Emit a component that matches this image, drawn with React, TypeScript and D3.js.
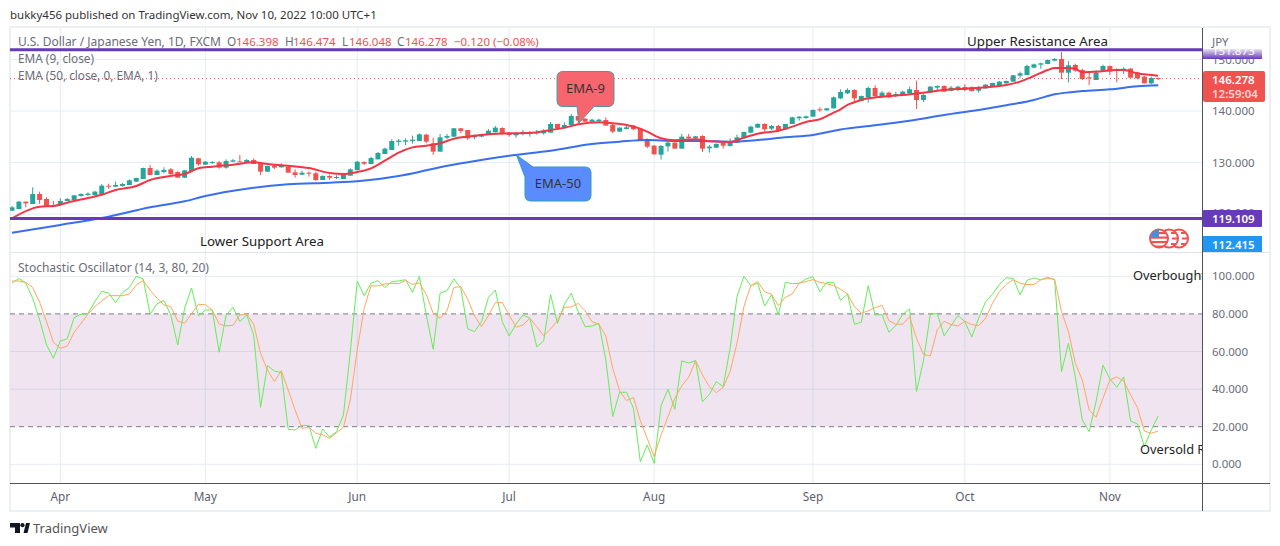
import React from 'react';
import * as d3 from 'd3';

const WIDTH = 1280;
const HEIGHT = 546;

// daily candles, left to right
const opens = [120.65,120.97,122.40,121.94,123.88,122.91,121.75,121.75,122.53,122.72,123.49,123.69,123.69,123.88,125.50,125.31,125.44,125.63,126.28,126.80,128.93,127.57,128.15,128.67,128.15,127.05,128.35,130.81,129.58,129.90,130.03,129.00,130.16,130.23,130.10,130.48,129.84,128.22,129.38,129.06,129.19,128.09,127.64,128.02,127.90,126.60,127.38,126.99,126.80,127.44,128.54,130.10,129.71,130.61,131.65,132.43,133.98,134.05,134.18,134.18,
  135.41,133.73,132.11,134.82,135.02,136.64,136.31,134.89,135.02,135.34,135.86,136.70,135.67,135.28,135.54,135.60,135.67,135.67,135.80,137.48,136.64,137.29,139.03,138.52,137.93,138.06,138.26,137.29,135.99,136.51,137.16,136.51,134.37,133.27,131.52,133.14,133.86,132.69,135.02,134.70,135.15,132.76,132.88,133.86,133.21,133.86,134.70,135.80,136.77,137.48,136.57,137.09,136.44,137.48,138.58,138.64,138.90,140.33,140.13,140.52,142.46,
  143.43,144.08,141.99,142.65,144.47,142.91,143.56,143.04,143.04,143.43,144.08,142.14,143.56,144.53,144.86,143.95,144.08,144.66,144.60,143.95,144.40,144.79,144.92,145.37,145.70,146.86,146.99,148.42,149.00,149.13,149.77,150.10,147.44,148.93,147.96,146.54,146.02,147.83,148.74,148.16,147.96,148.22,147.44,146.67,145.37,146.398];
const highs = [121.55,122.53,122.40,125.18,124.34,123.24,122.53,123.04,123.10,123.70,124.01,124.20,124.50,125.82,125.89,126.28,126.02,126.73,127.05,129.00,129.51,128.67,129.06,128.93,128.28,128.55,131.26,130.94,130.29,130.29,130.29,130.61,130.68,131.46,130.68,130.81,129.97,129.38,129.71,129.84,129.32,128.67,128.41,128.22,128.22,127.51,127.64,127.51,127.90,128.87,130.29,130.23,131.13,132.04,132.88,134.50,134.56,134.69,135.21,135.66,
  135.54,134.82,135.54,135.54,136.70,136.64,136.31,135.41,135.60,136.51,137.09,136.83,135.93,135.80,136.31,136.12,136.31,136.44,137.87,137.48,137.80,139.42,139.03,138.60,138.45,138.52,138.77,137.54,136.83,137.22,137.29,136.64,134.70,133.40,133.40,134.05,134.24,135.54,135.54,135.15,135.28,133.40,133.73,134.12,134.70,135.41,135.99,137.16,137.61,137.61,137.29,137.29,137.48,138.90,139.03,139.10,140.30,140.72,140.60,142.80,144.20,
  144.40,144.20,143.00,144.73,144.98,143.88,143.75,143.75,143.95,144.73,145.89,143.30,144.86,144.98,144.98,144.86,144.86,145.18,144.80,144.86,145.24,145.50,145.83,145.90,147.00,147.64,149.00,149.20,149.39,150.00,150.29,151.46,149.70,149.19,148.22,147.44,147.96,149.00,148.80,148.29,148.48,148.35,147.64,146.80,146.67,146.474];
const lows = [120.65,120.91,121.29,121.94,121.94,121.42,121.42,121.55,122.50,122.70,123.37,123.50,123.60,123.88,124.85,125.20,125.31,125.63,126.20,126.80,127.57,127.57,127.90,127.57,127.05,127.00,128.35,129.38,129.58,129.71,128.80,128.80,130.10,130.10,130.03,129.71,127.57,128.15,128.74,129.00,128.02,127.05,127.57,127.25,126.41,126.60,126.60,126.80,126.80,127.44,128.41,129.51,129.64,130.61,131.65,132.43,133.27,133.40,133.66,134.18,
  133.73,131.46,132.11,134.50,135.00,135.67,134.37,134.50,134.90,135.34,135.86,135.41,135.02,134.82,135.28,135.02,135.41,135.41,135.80,136.44,136.64,137.16,137.61,137.90,137.74,137.87,137.16,135.67,135.99,136.44,136.31,134.24,132.76,131.52,130.55,132.11,132.69,132.69,134.37,134.50,132.04,131.91,132.82,132.69,133.08,133.86,134.63,135.67,136.70,135.93,136.31,135.99,136.44,137.48,138.13,138.50,138.90,139.87,140.10,140.50,142.30,
  143.30,141.70,141.99,141.62,142.65,142.78,142.52,142.65,142.91,143.43,140.39,141.75,143.56,143.95,143.75,143.82,143.82,143.82,143.75,143.56,144.30,144.70,144.86,145.30,145.70,146.34,146.99,148.30,148.22,149.10,149.64,146.21,145.57,147.64,146.02,145.05,146.02,147.70,147.00,145.57,147.18,146.47,146.15,145.37,145.18,146.048];
const closes = [121.29,122.40,122.07,123.88,122.72,121.55,121.55,122.53,122.91,123.62,123.88,123.95,124.34,125.50,125.31,125.63,125.82,126.54,126.99,128.93,127.57,128.41,128.54,127.77,127.05,128.48,130.94,129.64,130.16,130.10,129.00,130.29,130.42,130.10,130.48,129.71,128.22,129.32,129.00,129.32,128.02,127.57,128.02,127.83,126.60,127.38,127.05,127.18,127.57,128.67,130.16,129.77,130.87,131.85,132.69,134.17,134.24,134.30,134.43,135.47,
  134.05,132.11,134.89,135.15,136.64,136.12,134.70,135.15,135.47,136.18,136.77,135.54,135.34,135.54,135.93,135.80,135.93,136.12,137.48,136.64,137.29,139.03,138.13,137.93,138.32,138.32,137.16,135.99,136.77,136.83,136.44,134.24,133.08,131.59,133.21,133.86,132.69,135.02,134.70,135.08,132.69,133.08,133.60,133.27,133.86,134.89,135.93,136.96,137.48,136.44,137.09,136.31,137.48,138.77,138.90,138.97,140.20,140.20,140.52,142.66,143.69,
  144.08,142.46,142.91,144.47,142.91,143.56,142.65,143.30,143.75,144.21,142.14,143.11,144.73,144.86,143.75,144.53,144.73,144.08,143.88,144.66,145.11,145.44,145.70,145.83,146.93,147.31,148.74,149.06,149.26,149.90,150.10,147.44,148.87,147.83,146.21,146.34,147.44,148.74,147.64,147.77,148.22,146.47,146.34,145.37,146.41,146.278];

// moving averages, read every few bars
const ema9Bars = [0,3,4,6,8,11,13,15,18,20,23,25,27,29,32,35,37,40,43,46,48,50,52,54,56,58,60,62,64,66,69,72,75,78,80,82,85,87,89,91,92,94,96,99,101,104,106,108,111,113,115,117,119,120,121,123,126,129,132,135,138,141,144,146,148,150,151,153,154,155,157,160,161,163,166];
const ema9Values = [119.16,121.10,121.42,121.55,122.20,123.10,123.75,124.66,125.44,126.60,127.38,127.77,128.87,129.19,129.58,130.03,129.71,129.38,128.93,127.96,127.77,128.15,128.87,130.35,131.91,132.94,133.27,133.73,134.63,135.02,135.47,135.67,135.73,136.31,136.77,137.41,137.80,137.61,137.29,136.57,135.99,134.70,134.31,134.50,134.11,133.98,134.83,135.60,136.18,136.96,137.87,138.39,139.68,140.33,141.17,142.14,142.78,143.11,143.56,144.08,144.34,144.60,145.05,145.70,146.80,147.96,148.35,148.35,148.22,147.51,147.64,147.96,147.96,147.31,146.86];
const ema50Bars = [0,7,14,20,25,28,34,40,46,50,56,60,62,66,72,78,84,88,92,96,100,104,108,112,116,120,125,130,135,140,144,148,151,155,159,163,166];
const ema50Values = [116.38,117.87,119.48,121.29,122.46,123.50,124.92,125.76,126.08,126.34,127.38,128.48,129.06,130.04,131.33,132.30,133.60,134.05,134.37,134.18,134.18,134.05,134.37,134.89,135.34,136.40,137.22,138.12,139.23,140.20,141.10,142.14,143.24,143.88,144.20,144.79,144.98];

// stochastic %K and %D
const stochK = [96.3,98.9,96.3,88.3,76.8,63.5,56.4,65.6,66.7,78,79.8,80.3,86.5,92,91.1,86,91.3,94.1,100,98.6,79.8,85.3,87.2,79.4,63.5,83,93.8,78.9,82.1,82.1,59.6,79.1,83.5,75.9,79.4,68.8,30.3,52.5,49.6,48.8,18.6,18.3,20.7,20.6,8.5,18.8,14.4,17.4,26.2,59.9,97.5,89.7,96.3,97.7,94,97.2,97.5,98.2,91.5,100,79.4,61.2,
  91,92.4,98.6,93.6,72,70.6,75.9,88.8,92.7,75.9,68.3,74.6,79.4,77.7,62.4,65.6,90.4,75,85.1,91,81.2,73.2,73.6,75,55.5,25.4,38.3,38.3,29.8,1.4,10.3,0.5,31.2,39.9,29.3,55,53.9,55.1,33.3,37.2,44,41.3,61.7,89.2,100,95,96.3,84.2,90.1,79.4,96.8,96.1,96.3,98.6,99.8,91.8,96.8,96.8,87.1,90.6,
  74.5,75.5,95,79.4,79.6,70.2,73.8,79.8,82.6,38.7,55,79.8,80.3,68.3,73.8,79.1,75.9,67.7,77.7,86.5,90.4,95.7,99.3,98.8,90.1,97.9,99.1,98.1,99.5,98.1,49.3,64.4,46.6,23.6,17.4,33.3,52.7,45.4,41,46.5,23,21.5,9.4,18.3,25.7];
const stochD = [97.5,97.5,96.8,94,86.2,75.9,64.9,61.7,62.9,70.2,75,79.8,83.9,86.9,89.7,89.7,89.7,90.6,95.4,97.7,92.7,88.3,84.8,83.9,76.2,75,80,85.1,84.9,82.1,74.6,73.6,73.9,79.4,79.8,74.6,59,50.2,44,49.8,39.5,28.9,19.1,19.7,16.5,15.6,13.8,16.8,19.7,34.2,60.8,83,94.9,94.9,95.9,96.3,96.1,97.7,95.7,96.5,90.4,
  80.3,77.7,81.7,94.1,94.5,87.8,78.9,73.2,79.1,86,86,79.4,73,74.1,77.7,73.2,68.4,72,76.4,83.5,83.7,85.6,81.6,75.9,74.5,68.3,51.1,39,33.9,35.5,23.2,13.8,4.1,15.6,25.4,35.1,41.7,46.3,55.1,47.5,41.3,38.1,41,49.3,64.4,83.9,95,97.2,91.8,90.4,84.4,88.8,90.6,96.3,97.2,98.2,96.8,96.1,95,93.1,90.6,
  83.9,80.3,81.7,83.3,84.6,76.4,74.5,74.5,78.5,67,58.5,57.6,71.5,76.1,74.3,73.6,76.1,74.3,73.8,77.7,85.6,91.8,95.7,98.2,96.3,95.6,95.6,98.1,98.9,98.4,81.2,70.6,53.7,44.9,28.9,25,35.1,44.9,46.5,44.3,36.9,30.1,17.7,16.5,17.7];

const monthLabels = ['Apr','May','Jun','Jul','Aug','Sep','Oct','Nov'];
const monthBars = [7,28,50,72,93,116,138,159];
const priceTicks = [140,130];
const stochTicks = [100,80,60,40,20,0];
const stochGrid = [100,60,40,0];

const LAST_PRICE = 146.278;
const UPPER_LEVEL = 151.873;
const LOWER_LEVEL = 119.109;

const UI_FONT = "'Noto Sans', sans-serif";
const GREY = '#6a6d78';
const GRID = '#e6ecf3';
const PURPLE = '#673ab7';
const UP = '#26a69a';
const DOWN = '#ef5350';

const AXIS_X = 1202;
const RIGHT = 1270;

const x = d3.scaleLinear().domain([0, 166]).range([12, 1158.2]);
const yPrice = d3.scaleLinear().domain([120, 150]).range([214, 59.5]);
const yStoch = d3.scaleLinear().domain([0, 100]).range([464.3, 276.3]);

const App: React.FC = () => {
  const emaLine = d3.line<[number, number]>()
    .x(d => x(d[0]))
    .y(d => yPrice(d[1]))
    .curve(d3.curveMonotoneX);
  const stochLine = d3.line<number>()
    .x((_, i) => x(i))
    .y(d => yStoch(d));

  const ema9 = emaLine(ema9Bars.map((b, i) => [b, ema9Values[i]] as [number, number])) || '';
  const ema50 = emaLine(ema50Bars.map((b, i) => [b, ema50Values[i]] as [number, number])) || '';

  return (
    <svg
      width={WIDTH}
      height={HEIGHT}
      viewBox={`0 0 ${WIDTH} ${HEIGHT}`}
      style={{ position: 'absolute', left: 0, top: 0, background: '#fff' }}
    >
      <defs>
        <clipPath id="plot"><rect x={10} y={28} width={AXIS_X - 10} height={455} /></clipPath>
        <linearGradient id="fadeTag" x1="0" y1="0" x2="0" y2="1">
          <stop offset="0" stopColor="#fff" stopOpacity={0.85} />
          <stop offset="1" stopColor="#fff" stopOpacity={0} />
        </linearGradient>
        <clipPath id="flagA"><circle cx={1159} cy={238.5} r={9} /></clipPath>
      </defs>

      <text x={10} y={19} fontFamily={UI_FONT} fontSize={11.5} fill="#333">
        bukky456 published on TradingView.com, Nov 10, 2022 10:00 UTC+1
      </text>

      {/* frame */}
      <rect x={10} y={27} width={RIGHT - 10} height={484} fill="none" stroke="#eceff4" strokeWidth={2} />

      {/* grid */}
      <g stroke={GRID} strokeWidth={1}>
        {monthBars.map(b => <line key={b} x1={x(b)} x2={x(b)} y1={28} y2={483} />)}
        {[150, ...priceTicks, 120].map(t => <line key={t} x1={10} x2={AXIS_X} y1={yPrice(t)} y2={yPrice(t)} />)}
        {stochGrid.map(t => <line key={t} x1={10} x2={AXIS_X} y1={yStoch(t)} y2={yStoch(t)} />)}
      </g>
      <line x1={10} x2={RIGHT} y1={252.5} y2={252.5} stroke="#dfe3ea" />

      {/* stochastic */}
      <rect x={10} y={yStoch(80)} width={AXIS_X - 10} height={yStoch(20) - yStoch(80)} fill="#f0e4f0" />
      <g stroke="#d6d6e6" strokeWidth={1}>
        {[60, 40].map(t => <line key={t} x1={10} x2={AXIS_X} y1={yStoch(t)} y2={yStoch(t)} />)}
        {monthBars.map(b => <line key={b} x1={x(b)} x2={x(b)} y1={yStoch(80)} y2={yStoch(20)} />)}
      </g>
      {[80, 20].map(t => (
        <line key={t} x1={10} x2={AXIS_X} y1={yStoch(t)} y2={yStoch(t)} stroke="#787b86" strokeDasharray="5 4" />
      ))}
      <g clipPath="url(#plot)">
        <path d={stochLine(stochK) || ''} fill="none" stroke="#63ee55" strokeWidth={1} />
        <path d={stochLine(stochD) || ''} fill="none" stroke="#ffa75e" strokeWidth={1} />
      </g>

      {/* candles */}
      <g clipPath="url(#plot)">
        {opens.map((o, i) => {
          const c = closes[i];
          const col = c >= o ? UP : DOWN;
          const top = yPrice(Math.max(o, c));
          const bottom = yPrice(Math.min(o, c));
          return (
            <g key={i}>
              <line x1={x(i)} x2={x(i)} y1={yPrice(highs[i])} y2={yPrice(lows[i])} stroke={col} />
              <rect x={x(i) - 2.5} y={top} width={5} height={Math.max(bottom - top, 1)} fill={col} />
            </g>
          );
        })}
        <line x1={10} x2={AXIS_X} y1={yPrice(LAST_PRICE)} y2={yPrice(LAST_PRICE)} stroke={DOWN} strokeDasharray="1 3" />
        <path d={ema50} fill="none" stroke="#2f66f0" strokeWidth={2} strokeOpacity={0.95} />
        <path d={ema9} fill="none" stroke="#f23645" strokeWidth={2} />
        <line x1={10} x2={AXIS_X} y1={yPrice(UPPER_LEVEL)} y2={yPrice(UPPER_LEVEL)} stroke={PURPLE} strokeWidth={3} />
        <line x1={10} x2={AXIS_X} y1={yPrice(LOWER_LEVEL)} y2={yPrice(LOWER_LEVEL)} stroke={PURPLE} strokeWidth={3} />
      </g>

      {/* callouts */}
      <path
        d="M563 71.5 H608 Q614 71.5 614 77.5 V100.5 Q614 106.5 608 106.5 H594 L579 123 L577 106.5 H563 Q557 106.5 557 100.5 V77.5 Q557 71.5 563 71.5 Z"
        fill="#f7666f" stroke="#4f9aa0"
      />
      <text x={585.5} y={93} textAnchor="middle" fontFamily={UI_FONT} fontSize={13} fill="#333">EMA-9</text>
      <path
        d="M533 167 H585 Q591 167 591 173 V195 Q591 201 585 201 H531 Q525 201 525 195 V177 L516.5 155 Z"
        fill="#5b8cff" stroke="#2d9fb3"
      />
      <text x={558} y={188} textAnchor="middle" fontFamily={UI_FONT} fontSize={13} fill="#333">EMA-50</text>

      {/* drawings' notes */}
      <g clipPath="url(#plot)" fontFamily={UI_FONT} fontSize={13.3} fill="#222">
        <text x={967} y={46}>Upper Resistance Area</text>
        <text x={200} y={246}>Lower Support Area</text>
        <text x={1133} y={280} fontSize={12.8}>Overbought</text>
        <text x={1140} y={454} fontSize={12.8}>Oversold Region</text>
      </g>

      {/* legend */}
      <g fontFamily={UI_FONT} fontSize={11.8} fill={GREY}>
        <text x={18} y={46} fontSize={12}>U.S. Dollar / Japanese Yen, 1D, FXCM</text>
        <text x={227} y={46}>O</text>
        <text x={236} y={46} fontSize={11.5} fill={DOWN}>146.398</text>
        <text x={285} y={46}>H</text>
        <text x={293} y={46} fontSize={11.5} fill={DOWN}>146.474</text>
        <text x={342} y={46}>L</text>
        <text x={349} y={46} fontSize={11.5} fill={DOWN}>146.048</text>
        <text x={397} y={46}>C</text>
        <text x={405} y={46} fontSize={11.5} fill={DOWN}>146.278</text>
        <text x={454} y={46} fontSize={11.5} fill={DOWN}>−0.120 (−0.08%)</text>
        <text x={18} y={63}>EMA (9, close)</text>
        <text x={18} y={80}>EMA (50, close, 0, EMA, 1)</text>
        <text x={18} y={272} fontSize={12}>Stochastic Oscillator (14, 3, 80, 20)</text>
      </g>

      {/* event flags */}
      <g>
        {[1179, 1169].map(cx => (
          <g key={cx}>
            <circle cx={cx} cy={238.5} r={9} fill="#fff" stroke={DOWN} strokeWidth={2} />
            <path d={`M${cx + 2} 233 H${cx + 7} M${cx + 3} 238.5 H${cx + 8} M${cx + 2} 244 H${cx + 7}`} stroke={DOWN} strokeWidth={2} />
          </g>
        ))}
        <circle cx={1159} cy={238.5} r={9} fill="#fff" stroke={DOWN} strokeWidth={2} />
        <g clipPath="url(#flagA)">
          {[232, 236.5, 241, 245.5].map(v => <rect key={v} x={1150} y={v} width={18} height={2.2} fill={DOWN} />)}
          <rect x={1150} y={230} width={9} height={8} fill="#4a90d9" />
        </g>
      </g>

      {/* time axis */}
      <line x1={10} x2={RIGHT} y1={483.5} y2={483.5} stroke="#50535e" />
      <line x1={AXIS_X + 0.5} x2={AXIS_X + 0.5} y1={28} y2={511} stroke="#50535e" />
      <g fontFamily={UI_FONT} fontSize={11.8} fill="#5d606b" textAnchor="middle">
        {monthBars.map((b, i) => <text key={b} x={x(b)} y={501}>{monthLabels[i]}</text>)}
      </g>

      {/* price axis */}
      <g fontFamily={UI_FONT} fontSize={11.5} fill={GREY}>
        <text x={1212} y={45.5}>JPY</text>
        <text x={1212} y={yPrice(150) + 4.5}>150.000</text>
        <rect x={AXIS_X + 1} y={49} width={59} height={10} fill={PURPLE} />
        <text x={1212} y={54.5} fill="#fff">151.873</text>
        <rect x={AXIS_X + 1} y={49} width={59} height={10} fill="url(#fadeTag)" />
        {priceTicks.map(t => <text key={t} x={1212} y={yPrice(t) + 4}>{d3.format('.3f')(t)}</text>)}
        <text x={1212} y={217}>120.000</text>
        {stochTicks.map(t => <text key={t} x={1212} y={yStoch(t) + 4}>{d3.format('.3f')(t)}</text>)}
      </g>
      <rect x={AXIS_X + 1} y={71} width={62} height={31} rx={2} fill={DOWN} />
      <text x={1212} y={84} fontFamily={UI_FONT} fontSize={11.5} fontWeight={600} fill="#fff">146.278</text>
      <text x={1212} y={98} fontFamily={UI_FONT} fontSize={11.5} fontWeight={600} fill="#ffd6d4">12:59:04</text>
      <rect x={AXIS_X + 1} y={210} width={59} height={17} rx={1} fill={PURPLE} />
      <text x={1212} y={223} fontFamily={UI_FONT} fontSize={11.5} fontWeight={600} fill="#fff">119.109</text>
      <rect x={AXIS_X + 1} y={236} width={59} height={16} fill="#2196f3" />
      <text x={1212} y={249} fontFamily={UI_FONT} fontSize={11.5} fontWeight={600} fill="#fff">112.415</text>

      {/* logo */}
      <path d="M10 523 H20 V533 H15 V527.5 H10 Z M23.5 533 L26 523 H30 L27.5 533 Z" fill="#131722" />
      <circle cx={22.5} cy={525.2} r={2.1} fill="#131722" />
      <text x={33} y={533} fontFamily={UI_FONT} fontSize={13} fill="#555">TradingView</text>
    </svg>
  );
};

export default App;
